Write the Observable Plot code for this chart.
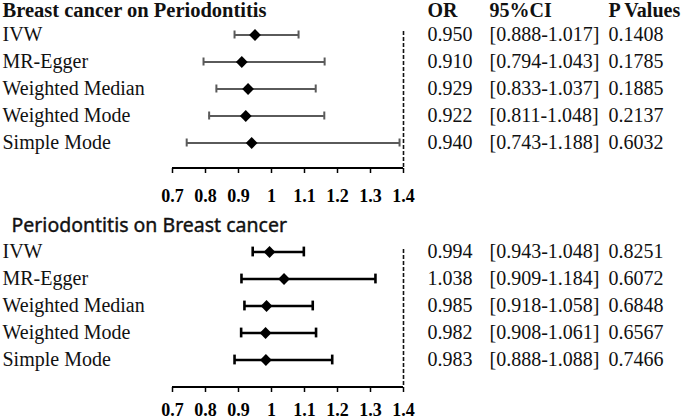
<!DOCTYPE html>
<html><head><meta charset="utf-8">
<script src="https://cdn.jsdelivr.net/npm/d3@7"></script>
<script src="https://cdn.jsdelivr.net/npm/@observablehq/plot@0.6"></script>
<style>body{margin:0;background:#fff;overflow:hidden} #chart svg{display:block;overflow:visible}</style>
</head><body><div id="chart"></div>
<script>
const methods = ["IVW", "MR-Egger", "Weighted Median", "Weighted Mode", "Simple Mode"];
const topTitle = "Breast cancer on Periodontitis";
const bottomTitle = "Periodontitis on Breast cancer";
const headers = ["OR", "95%CI", "P Values"];

const orTop = [0.950, 0.910, 0.929, 0.922, 0.940];
const ciLowTop = [0.888, 0.794, 0.833, 0.811, 0.743];
const ciHighTop = [1.017, 1.043, 1.037, 1.048, 1.188];
const barHighTop = [1.082, 1.161, 1.134, 1.160, 1.388]; // right whisker ends as drawn in the picture
const pTop = [0.1408, 0.1785, 0.1885, 0.2137, 0.6032];

const orBottom = [0.994, 1.038, 0.985, 0.982, 0.983];
const ciLowBottom = [0.943, 0.909, 0.918, 0.908, 0.888];
const ciHighBottom = [1.048, 1.184, 1.058, 1.061, 1.088];
const barHighBottom = [1.098, 1.315, 1.125, 1.135, 1.184]; // as drawn
const pBottom = [0.8251, 0.6072, 0.6848, 0.6567, 0.7466];

const tickValues = [0.7, 0.8, 0.9, 1.0, 1.1, 1.2, 1.3, 1.4];
const tickLabels = ["0.7", "0.8", "0.9", "1", "1.1", "1.2", "1.3", "1.4"];
const refLine = 1.4;

const serif = "'Liberation Serif', 'Times New Roman', serif";
const sans = "'Noto Sans', 'DejaVu Sans', sans-serif";
const f3 = d3.format(".3f"), f4 = d3.format(".4f");
const columnOffsets = [427, 489, 608];

function rowsOf(or, lo, hi, bar, p) {
  return methods.map((m, i) => ({method: m, or: or[i], lo: lo[i], hi: hi[i], bar: bar[i], p: p[i]}));
}

function panel({rows, height, marginTop, marginBottom, yRange, axisGap, tickPadding, title, titleFont, titleWeight, titleSize, titleDx, titleDy, titleStroke, showHeaders, lineColor, lineWidth, capInset}) {
  const capStyle = {stroke: lineColor, strokeWidth: lineWidth, insetTop: capInset, insetBottom: capInset};
  const textStyle = {frameAnchor: "left", textAnchor: "start", fontSize: 20, fill: "#111"};
  const marks = [
    Plot.ruleX([refLine], {x: d => d, stroke: "#111", strokeWidth: 1.6, strokeDasharray: "4,2"}),
    Plot.ruleY(rows, {y: "method", x1: "lo", x2: "bar", stroke: lineColor, strokeWidth: lineWidth}),
    Plot.tickX(rows, {x: "lo", y: "method", ...capStyle}),
    Plot.tickX(rows, {x: "bar", y: "method", ...capStyle}),
    Plot.dot(rows, {x: "or", y: "method", symbol: "diamond2", r: 5.3, fill: "#000", stroke: null}),
    Plot.ruleY([methods[methods.length - 1]], {y: d => d, x1: tickValues[0], x2: tickValues[tickValues.length - 1], dy: axisGap, stroke: "#000", strokeWidth: 2}),
    Plot.axisX({ticks: tickValues, tickFormat: d => tickLabels[tickValues.indexOf(d)], tickSize: 5, tickPadding, fontSize: 18, fontWeight: "bold", fontFamily: serif, stroke: "#000", strokeWidth: 1.5, fill: "#000", label: null}),
    Plot.text(rows, {y: "method", text: "method", dx: 2, ...textStyle}),
    Plot.text(rows, {y: "method", text: d => f3(d.or), dx: columnOffsets[0], ...textStyle}),
    Plot.text(rows, {y: "method", text: d => `[${f3(d.lo)}-${f3(d.hi)}]`, dx: columnOffsets[1], ...textStyle}),
    Plot.text(rows, {y: "method", text: d => f4(d.p), dx: columnOffsets[2], ...textStyle}),
    Plot.text([title], {frameAnchor: "top-left", lineAnchor: "middle", textAnchor: "start", dx: titleDx, dy: titleDy, fontSize: titleSize, fontWeight: titleWeight, fontFamily: titleFont, fill: "#111", stroke: titleStroke ? "#111" : null, strokeWidth: titleStroke || 0})
  ];
  if (showHeaders) {
    headers.forEach((h, i) => marks.push(Plot.text([h], {frameAnchor: "top-left", lineAnchor: "middle", textAnchor: "start", dx: columnOffsets[i], dy: titleDy, fontSize: 20, fontWeight: "bold", fill: "#111"})));
  }
  return Plot.plot({
    width: 685, height,
    marginLeft: 0, marginRight: 0, marginTop, marginBottom,
    style: {fontFamily: serif, fontSize: "20px", background: "#fff", color: "#111", overflow: "visible"},
    x: {domain: [tickValues[0], tickValues[tickValues.length - 1]], range: [172, 403], axis: null},
    y: {type: "band", domain: methods, range: yRange, padding: 0, axis: null},
    marks
  });
}

const topChart = panel({
  rows: rowsOf(orTop, ciLowTop, ciHighTop, barHighTop, pTop),
  height: 205, marginTop: 31, marginBottom: 37, yRange: [19.25, 156.75], axisGap: 25, tickPadding: 16,
  title: topTitle, titleFont: serif, titleWeight: "bold", titleSize: 20.5, titleDx: 2, titleDy: -21,
  showHeaders: true, lineColor: "#5a5a5a", lineWidth: 2, capInset: 9.5
});
const bottomChart = panel({
  rows: rowsOf(orBottom, ciLowBottom, ciHighBottom, barHighBottom, pBottom),
  height: 214, marginTop: 44, marginBottom: 32, yRange: [32.4, 168.6], axisGap: 27, tickPadding: 11,
  title: bottomTitle, titleFont: sans, titleWeight: "normal", titleSize: 19.5, titleDx: 11, titleDy: -24, titleStroke: 0.4,
  showHeaders: false, lineColor: "#000", lineWidth: 2.6, capInset: 8.6
});
document.getElementById("chart").append(topChart, bottomChart);
</script>
</body></html>
